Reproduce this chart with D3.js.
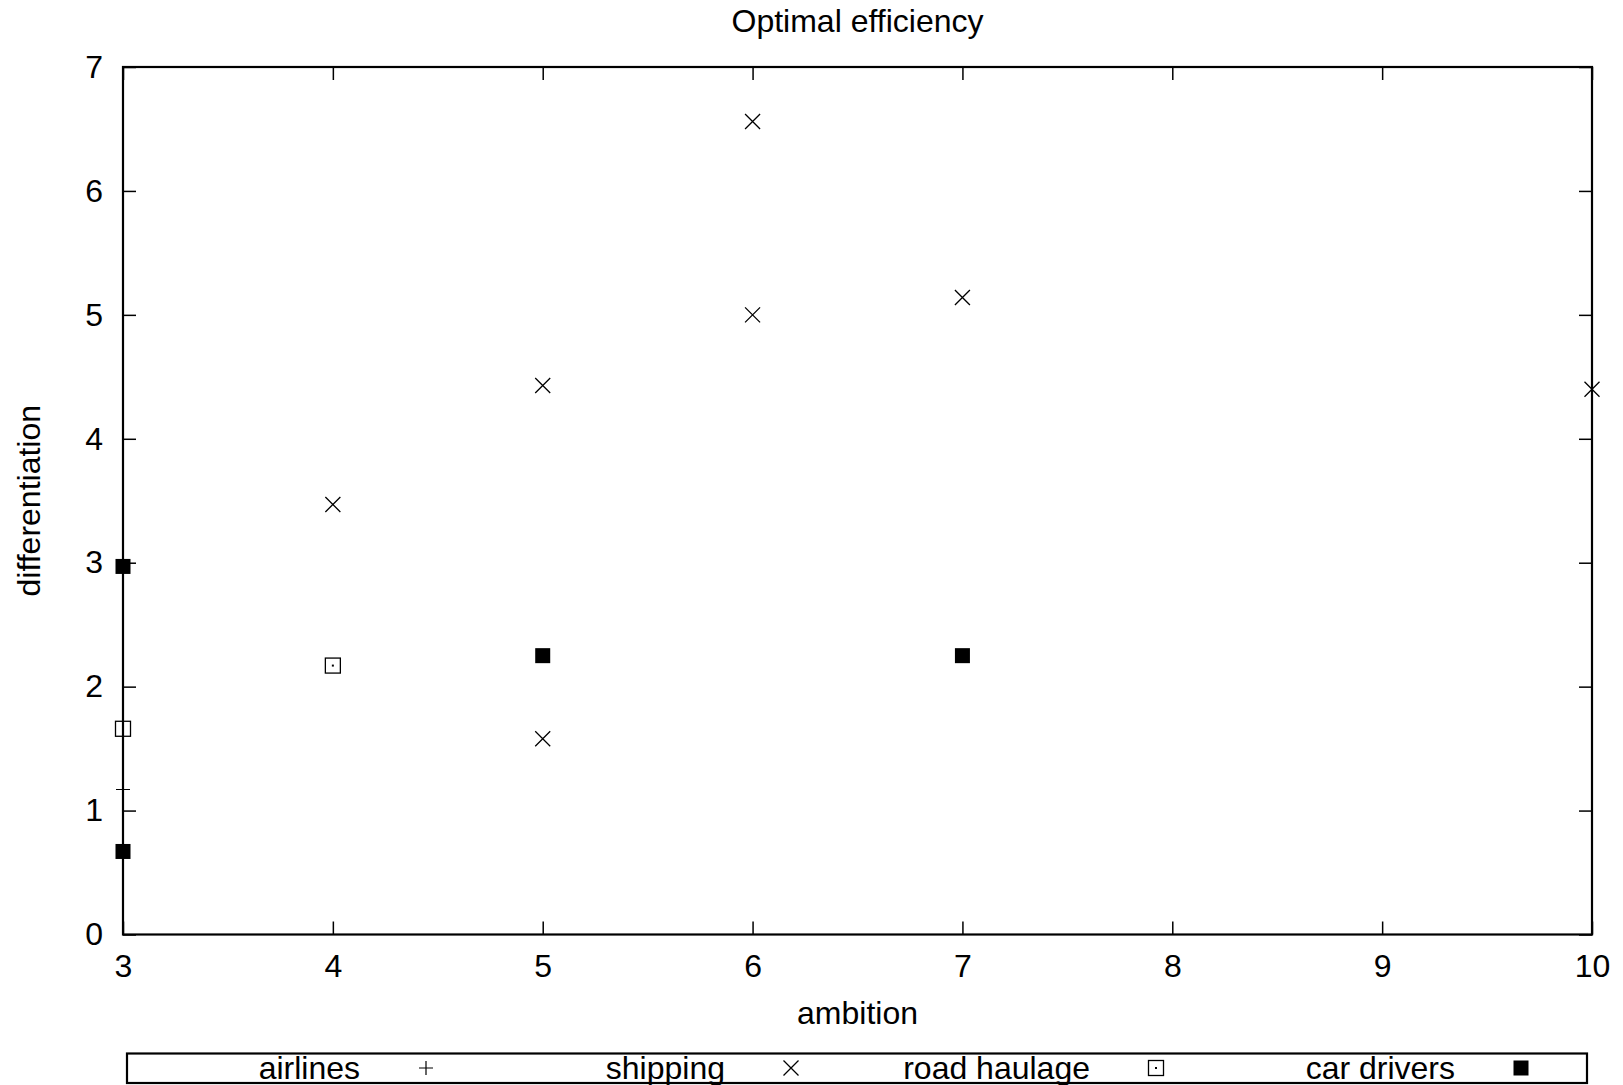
<!DOCTYPE html>
<html>
<head>
<meta charset="utf-8">
<script src="https://cdn.jsdelivr.net/npm/d3@7"></script>
<style>
body { margin: 0; background: #fff; }
text { font-family: "Liberation Sans", Arial, sans-serif; fill: #000; }
</style>
</head>
<body>
<div id="chart-area"></div>
<script>
// data
var airlinesX = [3];
var airlinesY = [1.17];
var shippingX = [6, 6, 7, 5, 10, 4, 5];
var shippingY = [6.56, 5.0, 5.14, 4.43, 4.40, 3.47, 1.58];
var roadX = [4, 3];
var roadY = [2.17, 1.66];
var carX = [3, 5, 7, 3];
var carY = [2.97, 2.25, 2.25, 0.67];
var seriesNames = ["airlines", "shipping", "road haulage", "car drivers"];
var xTicks = [3, 4, 5, 6, 7, 8, 9, 10];
var yTicks = [0, 1, 2, 3, 4, 5, 6, 7];

var W = 1623, H = 1085;
var margin = {top: 67, right: 31, bottom: 150.5, left: 123};
var width = W - margin.left - margin.right;
var height = H - margin.top - margin.bottom;
var fontSize = 32;

var svg = d3.select("#chart-area").append("svg")
    .attr("width", W)
    .attr("height", H);

var g = svg.append("g")
    .attr("transform", "translate(" + margin.left + "," + margin.top + ")");

var x = d3.scaleLinear().domain([3, 10]).range([0, width]);
var y = d3.scaleLinear().domain([0, 7]).range([height, 0]);
var fmt = d3.format("d");

function styleAxis(sel, showText) {
    sel.select(".domain").remove();
    sel.selectAll("line").attr("stroke", "#000").attr("stroke-width", 1.5);
    if (showText) {
        sel.selectAll("text").attr("font-size", fontSize).attr("fill", "#000")
            .attr("font-family", "'Liberation Sans', Arial, sans-serif");
    } else {
        sel.selectAll("text").remove();
    }
}

g.append("g").attr("transform", "translate(0," + height + ")")
    .call(d3.axisBottom(x).tickValues(xTicks).tickFormat(fmt).tickSizeInner(-13).tickSizeOuter(0).tickPadding(20))
    .call(styleAxis, true);
g.append("g")
    .call(d3.axisTop(x).tickValues(xTicks).tickSizeInner(-13).tickSizeOuter(0))
    .call(styleAxis, false);
g.append("g")
    .call(d3.axisLeft(y).tickValues(yTicks).tickFormat(fmt).tickSizeInner(-13).tickSizeOuter(0).tickPadding(20))
    .call(styleAxis, true);
g.append("g").attr("transform", "translate(" + width + ",0)")
    .call(d3.axisRight(y).tickValues(yTicks).tickSizeInner(-13).tickSizeOuter(0))
    .call(styleAxis, false);

g.append("rect")
    .attr("width", width)
    .attr("height", height)
    .attr("fill", "none")
    .attr("stroke", "#000")
    .attr("stroke-width", 2.2);

// labels
svg.append("text")
    .attr("x", margin.left + width / 2)
    .attr("y", 21)
    .attr("dy", "0.35em")
    .attr("text-anchor", "middle")
    .attr("font-size", fontSize)
    .text("Optimal efficiency");

svg.append("text")
    .attr("x", margin.left + width / 2)
    .attr("y", 1013)
    .attr("dy", "0.35em")
    .attr("text-anchor", "middle")
    .attr("font-size", fontSize)
    .text("ambition");

svg.append("text")
    .attr("transform", "translate(29," + (margin.top + height / 2) + ") rotate(-90)")
    .attr("dy", "0.35em")
    .attr("text-anchor", "middle")
    .attr("font-size", fontSize)
    .text("differentiation");

// marker shapes
function drawMarker(sel, kind) {
    var s = 7.5;
    if (kind == 0) {
        sel.append("path")
            .attr("d", "M-7,0H7M0,-7V7")
            .attr("stroke", "#000").attr("stroke-width", 1.2).attr("fill", "none");
    } else if (kind == 1) {
        sel.append("path")
            .attr("d", "M" + (-s) + "," + (-s) + "L" + s + "," + s + "M" + (-s) + "," + s + "L" + s + "," + (-s))
            .attr("stroke", "#000").attr("stroke-width", 1.3).attr("fill", "none");
    } else if (kind == 2) {
        sel.append("rect")
            .attr("x", -s).attr("y", -s).attr("width", 2 * s).attr("height", 2 * s)
            .attr("stroke", "#000").attr("stroke-width", 1.3).attr("fill", "none");
        sel.append("rect")
            .attr("x", -1).attr("y", -1).attr("width", 2).attr("height", 2)
            .attr("fill", "#000");
    } else {
        sel.append("rect")
            .attr("x", -s).attr("y", -s).attr("width", 2 * s).attr("height", 2 * s)
            .attr("fill", "#000");
    }
}

var series = [
    {xs: airlinesX, ys: airlinesY},
    {xs: shippingX, ys: shippingY},
    {xs: roadX, ys: roadY},
    {xs: carX, ys: carY}
];

series.forEach(function(s, k) {
    var pts = s.xs.map(function(v, i) { return {x: v, y: s.ys[i]}; });
    g.selectAll(".pt" + k)
        .data(pts)
        .enter().append("g")
        .attr("class", "pt" + k)
        .attr("transform", function(d) { return "translate(" + x(d.x) + "," + y(d.y) + ")"; })
        .each(function() { drawMarker(d3.select(this), k); });
});

// legend
var legend = svg.append("g");
legend.append("rect")
    .attr("x", 127).attr("y", 1053.5)
    .attr("width", 1460).attr("height", 29.5)
    .attr("fill", "none")
    .attr("stroke", "#000")
    .attr("stroke-width", 2.2);

var colW = 1460 / seriesNames.length;
seriesNames.forEach(function(name, i) {
    var row = legend.append("g")
        .attr("transform", "translate(" + (127 + i * colW) + ",1068)");
    row.append("text")
        .attr("x", 233)
        .attr("dy", "0.35em")
        .attr("text-anchor", "end")
        .attr("font-size", fontSize)
        .text(name);
    var m = row.append("g").attr("transform", "translate(299,0)");
    drawMarker(m, i);
});
</script>
</body>
</html>
